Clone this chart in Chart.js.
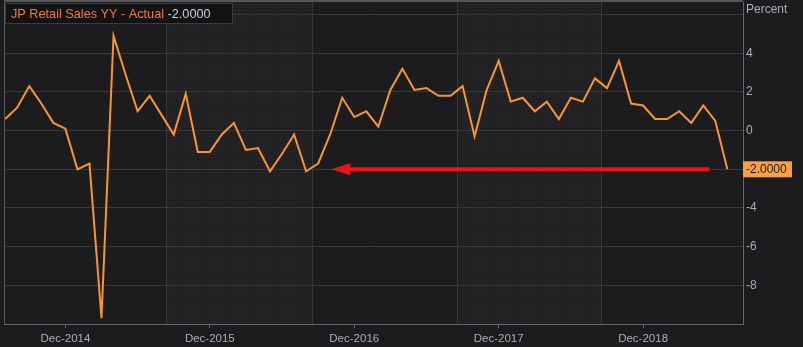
<!DOCTYPE html>
<html>
<head>
<meta charset="utf-8">
<script src="https://cdn.jsdelivr.net/npm/chart.js@4.4.1/dist/chart.umd.min.js"></script>
<style>
  html, body { margin: 0; padding: 0; background: #1c1c1e; }
  #wrap { width: 803px; height: 347px; position: relative; }
</style>
</head>
<body>
<div id="wrap"><canvas id="grafico"></canvas></div>
<script>
// months, Jul-2014 .. Jul-2019
const monthNames = ['Jan','Feb','Mar','Apr','May','Jun','Jul','Aug','Sep','Oct','Nov','Dec'];
const months = [];
for (let i = 0; i < 61; i++) {
    let m = (6 + i) % 12;
    let y = 2014 + Math.floor((6 + i) / 12);
    months.push(monthNames[m] + '-' + y);
}

// JP retail sales, year on year, percent
const retailYY = [
    0.6, 1.2, 2.3, 1.4, 0.4, 0.1,
    -2.0, -1.7, -9.7, 4.9, 2.9, 1.0, 1.8, 0.8, -0.2, 1.9, -1.1, -1.1,
    -0.2, 0.4, -1.0, -0.9, -2.1, -1.2, -0.2, -2.1, -1.7, -0.2, 1.7, 0.7,
    1.0, 0.2, 2.1, 3.2, 2.1, 2.2, 1.8, 1.8, 2.3, -0.3, 2.1, 3.6,
    1.5, 1.7, 1.0, 1.5, 0.6, 1.7, 1.5, 2.7, 2.2, 3.6, 1.4, 1.3,
    0.6, 0.6, 1.0, 0.4, 1.3, 0.5, -2.0
];

const xTickLabels = ['Dec-2014', 'Dec-2015', 'Dec-2016', 'Dec-2017', 'Dec-2018'];
const yTicks = [6, 4, 2, 0, -2, -4, -6, -8];
const yTickLabels = ['', '4', '2', '0', '', '-4', '-6', '-8'];
const dividers = [13.4, 25.45, 37.5, 49.5];
const shadedBands = [[13.4, 25.45], [37.5, 49.5]];

const titleText = 'JP Retail Sales YY - Actual ';
const lastValue = retailYY[retailYY.length - 1];
const arrowFrom = 58.5;
const arrowTo = 27.1;

const lineColor = '#f7962f';
const gridColor = '#38383b';
const textColor = '#a9aebb';

// dotted texture for the shaded years
function makePattern(ctx) {
    let c = document.createElement('canvas');
    c.width = 3; c.height = 3;
    let p = c.getContext('2d');
    p.fillStyle = '#212124';
    p.fillRect(0, 0, 3, 3);
    p.fillStyle = '#2a2a2e';
    p.fillRect(1, 1, 1, 1);
    return ctx.createPattern(c, 'repeat');
}

const fundo = {
    id: 'fundo',
    beforeDraw(chart) {
        let ctx = chart.ctx;
        let a = chart.chartArea;
        let x = chart.scales.x;
        ctx.save();
        ctx.fillStyle = '#1c1c1e';
        ctx.fillRect(0, 0, chart.width, chart.height);
        ctx.fillStyle = makePattern(ctx);
        shadedBands.forEach(b => {
            let x0 = x.getPixelForValue(b[0]);
            let x1 = x.getPixelForValue(b[1]);
            ctx.fillRect(x0, a.top, x1 - x0, a.bottom - a.top);
        });
        ctx.restore();
    },
    beforeDatasetsDraw(chart) {
        let ctx = chart.ctx;
        let a = chart.chartArea;
        let x = chart.scales.x;
        ctx.save();
        ctx.strokeStyle = gridColor;
        ctx.lineWidth = 1;
        dividers.forEach(d => {
            let px = Math.round(x.getPixelForValue(d)) + 0.5;
            ctx.beginPath();
            ctx.moveTo(px, a.top);
            ctx.lineTo(px, a.bottom);
            ctx.stroke();
        });
        // frame
        ctx.strokeStyle = '#5a5a5e';
        ctx.beginPath();
        ctx.moveTo(a.left + 0.5, a.top);
        ctx.lineTo(a.left + 0.5, a.bottom);
        ctx.stroke();
        ctx.fillStyle = '#55555a';
        ctx.fillRect(a.left, 0, a.right - a.left, 2);
        ctx.restore();
    },
    afterDraw(chart) {
        let ctx = chart.ctx;
        let a = chart.chartArea;
        let x = chart.scales.x;
        let y = chart.scales.y;
        ctx.save();

        // red arrow
        let ay = y.getPixelForValue(lastValue);
        let xs = x.getPixelForValue(arrowFrom);
        let xt = x.getPixelForValue(arrowTo);
        ctx.strokeStyle = '#f21010';
        ctx.fillStyle = '#f21010';
        ctx.lineWidth = 4;
        ctx.beginPath();
        ctx.moveTo(xs, ay);
        ctx.lineTo(xt + 16, ay);
        ctx.stroke();
        ctx.beginPath();
        ctx.moveTo(xt, ay);
        ctx.lineTo(xt + 19, ay - 6);
        ctx.lineTo(xt + 19, ay + 6);
        ctx.closePath();
        ctx.fill();

        // title box
        ctx.fillStyle = '#131315';
        ctx.fillRect(5, 3, 228, 21);
        ctx.strokeStyle = '#3c3c40';
        ctx.lineWidth = 1;
        ctx.strokeRect(5.5, 3.5, 227, 20);
        ctx.font = '12.7px "Liberation Sans", Arial, sans-serif';
        ctx.textBaseline = 'middle';
        ctx.textAlign = 'left';
        ctx.fillStyle = '#f27a2c';
        ctx.fillText(titleText, 11, 14);
        let w = ctx.measureText(titleText).width;
        ctx.fillStyle = '#c9d0e0';
        ctx.fillText(lastValue.toFixed(4), 11 + w, 14);

        // axis unit
        ctx.font = '12px "Liberation Sans", Arial, sans-serif';
        ctx.fillStyle = textColor;
        ctx.fillText('Percent', a.right + 3, 10);

        // last value tag
        ctx.fillStyle = '#f7a046';
        ctx.fillRect(a.right, ay - 8, 49, 16);
        ctx.fillStyle = '#1c1c1e';
        ctx.fillText(lastValue.toFixed(4), a.right + 3, ay + 0.5);
        ctx.restore();
    }
};

let config = {
    type: 'line',
    data: {
        datasets: [{
            label: 'JP Retail Sales YY',
            data: retailYY.map((v, i) => ({x: i, y: v})),
            borderColor: lineColor,
            borderWidth: 2,
            pointRadius: 0,
            tension: 0,
            fill: false
        }]
    },
    options: {
        responsive: false,
        animation: false,
        devicePixelRatio: 1,
        layout: {autoPadding: false, padding: {left: 4, top: 2, right: 0, bottom: 0}},
        plugins: {
            legend: {display: false},
            title: {display: false},
            tooltip: {enabled: false}
        },
        scales: {
            x: {
                type: 'linear',
                min: -0.1,
                max: 61.3,
                afterBuildTicks: s => { s.ticks = xTickLabels.map(l => ({value: months.indexOf(l)})); },
                afterFit: s => { s.height = 23; s.paddingLeft = 0; s.paddingRight = 0; },
                grid: {drawOnChartArea: false, drawTicks: true, tickLength: 4, color: '#66666b'},
                border: {display: true, color: '#66666b'},
                ticks: {
                    color: textColor,
                    padding: 4,
                    maxRotation: 0,
                    autoSkip: false,
                    font: {family: '"Liberation Sans", Arial, sans-serif', size: 11.5},
                    callback: v => months[v]
                }
            },
            y: {
                position: 'right',
                min: -10,
                max: 6.65,
                afterBuildTicks: s => { s.ticks = yTicks.map(v => ({value: v})); },
                afterFit: s => { s.width = 60; s.paddingTop = 0; s.paddingBottom = 0; },
                grid: {color: gridColor, drawTicks: false},
                border: {display: true, color: '#66666b'},
                ticks: {
                    color: textColor,
                    padding: 3,
                    font: {family: '"Liberation Sans", Arial, sans-serif', size: 12},
                    callback: (v) => yTickLabels[yTicks.indexOf(v)]
                }
            }
        }
    },
    plugins: [fundo]
};

let canvas = document.getElementById('grafico');
canvas.width = 803;
canvas.height = 347;
let ctx = new Chart(canvas, config);
</script>
</body>
</html>
